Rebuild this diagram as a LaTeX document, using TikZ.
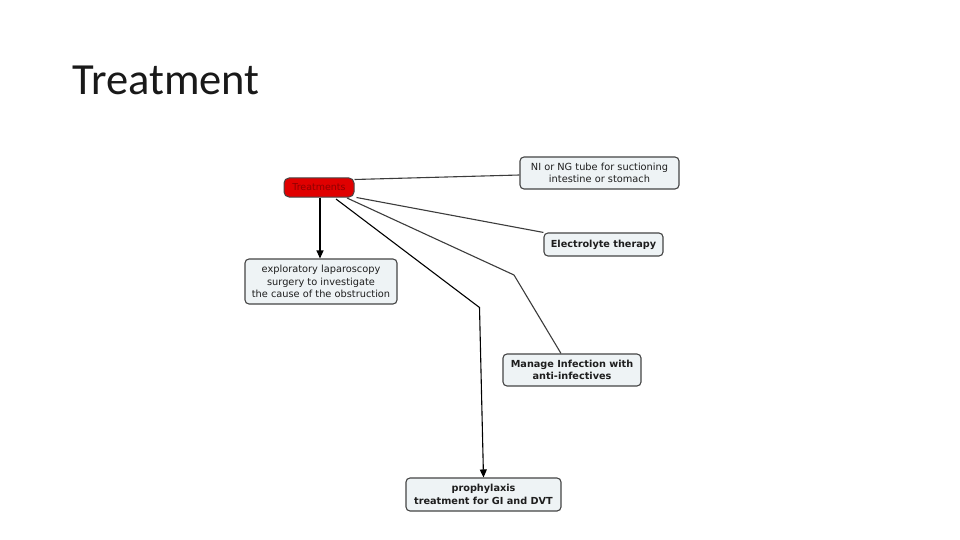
\documentclass[tikz,border=0pt]{standalone}
\usepackage{fontspec}
\setmainfont{DejaVu Sans}
\newfontfamily\titlefont{Carlito}
\usetikzlibrary{arrows.meta}
\definecolor{boxfill}{HTML}{EEF3F5}
\definecolor{boxline}{HTML}{454545}
\definecolor{txt}{HTML}{1E1E1E}
\definecolor{conn}{HTML}{3C3C3C}
\definecolor{trfill}{HTML}{E00000}
\definecolor{trtext}{HTML}{8E0000}
\begin{document}
\begin{tikzpicture}[x=1pt,y=-1pt,
  cbox/.style={draw=boxline,line width=1.1pt,fill=boxfill,rounded corners=4pt,
    text=txt,font=\fontsize{9.8}{12.5}\selectfont,align=center,inner sep=0pt},
  bbox/.style={cbox,font=\fontsize{9.7}{12.5}\selectfont\bfseries},
  conline/.style={draw=conn,line width=1.1pt},
  arr/.style={conline,-{Triangle[length=8pt,width=7pt]},color=black}]
\useasboundingbox (0,0) rectangle (960,540);
\fill[white] (0,0) rectangle (960,540);
\node[anchor=base west,inner sep=0pt,font=\titlefont\fontsize{44.5}{48}\selectfont,text=black!90] (title) at (72,95) {Treatment};

\node[draw=boxline,line width=1pt,fill=trfill,rounded corners=5pt,minimum width=70pt,minimum height=19pt,inner sep=0pt,text=trtext,font=\fontsize{9.5}{11}\selectfont] (tr) at (319,187.5) {Treatments};

\node[cbox,minimum width=159pt,minimum height=32pt] (ng) at (599.5,173) {NI or NG tube for suctioning\\intestine or stomach};
\node[bbox,minimum width=119pt,minimum height=23pt] (el) at (603.5,244.5) {Electrolyte therapy};
\node[cbox,minimum width=152pt,minimum height=45pt] (ex) at (321,281.5) {exploratory laparoscopy\\surgery to investigate\\the cause of the obstruction};
\node[bbox,minimum width=138pt,minimum height=32pt] (mi) at (572,370) {Manage Infection with\\anti-infectives};
\node[bbox,minimum width=155pt,minimum height=33pt] (pr) at (483.5,494.5) {prophylaxis\\treatment for GI and DVT};

\coordinate (b1) at (514,275);
\coordinate (b2) at (479.5,307.5);

\draw[conline] (tr.east |- 0,179.5) -- (ng.west |- 0,175);
\draw[conline] ([xshift=2pt]tr.south east) -- (el.north west);
\draw[conline] (347,198) -- (b1) -- (mi.north -| 561,0);
\draw[arr] (336,199) -- (b2) -- (pr.north -| 483.5,0);
\draw[arr] (tr.south -| 320,0) -- (ex.north -| 320,0);
\end{tikzpicture}
\end{document}
